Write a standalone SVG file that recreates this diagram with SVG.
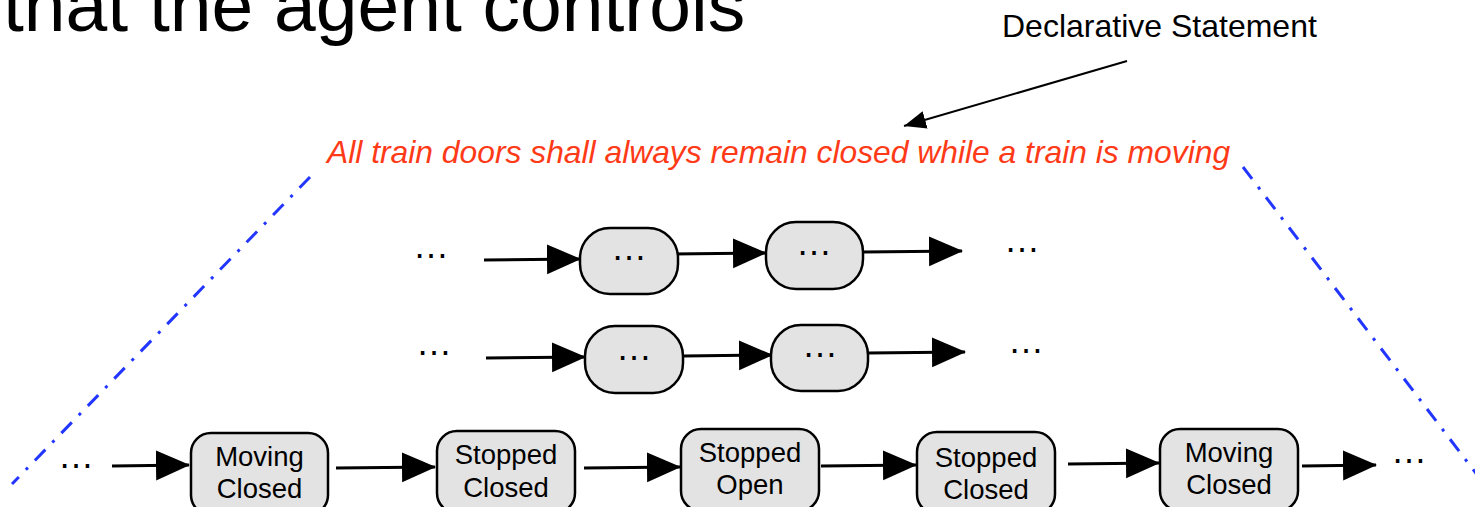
<svg xmlns="http://www.w3.org/2000/svg" width="1475" height="507" viewBox="0 0 1475 507">
  <defs>
    <style>
      .sans { font-family: "Liberation Sans", Arial, sans-serif; }
      .title { font-size: 75px; fill: #000; }
      .label { font-size: 32px; fill: #000; }
      .rule { font-size: 31.8px; font-style: italic; fill: #ff3a17; }
      .state { fill: #e3e3e3; stroke: #000; stroke-width: 2.5; }
      .stext { font-size: 27.5px; fill: #000; text-anchor: middle; }
      .dots { font-size: 36px; fill: #000; }
      .dotsm { font-size: 36px; fill: #000; text-anchor: middle; }
      .edge { fill: none; stroke: #000; stroke-width: 3; marker-end: url(#head); }
      .thin { fill: none; stroke: #000; stroke-width: 2; marker-end: url(#headSmall); }
      .bound { fill: none; stroke: #2236ff; stroke-width: 3; stroke-dasharray: 15 10 3 10; }
    </style>
    <marker id="head" markerUnits="userSpaceOnUse" markerWidth="34" markerHeight="32" viewBox="0 0 34 32" refX="33" refY="16" orient="auto">
      <path d="M0,1 L34,16 L0,31 Z" fill="#000"/>
    </marker>
    <marker id="headSmall" markerUnits="userSpaceOnUse" markerWidth="22" markerHeight="20" viewBox="0 0 22 20" refX="22" refY="10" orient="auto">
      <path d="M0,1 L22,10 L0,19 Z" fill="#000"/>
    </marker>
  </defs>

  <rect width="1475" height="507" fill="#fff"/>

  <!-- heading line running off the top edge -->
  <text class="sans title" x="3" y="31">that the agent controls</text>

  <!-- annotation and the requirement it points at -->
  <text id="declarative-label" class="sans label" x="1002" y="37">Declarative Statement</text>
  <text id="requirement" class="sans rule" x="327" y="163">All train doors shall always remain closed while a train is moving</text>

  <!-- boundary of the set of traces covered by the requirement -->
  <g id="boundary">
    <line class="bound" x1="310" y1="177" x2="12" y2="484"/>
    <line class="bound" x1="1243" y1="167" x2="1478" y2="476"/>
  </g>

  <g id="connectors">
    <line class="thin" x1="1127" y1="61" x2="904" y2="126"/>
    <!-- trace 1 -->
    <line class="edge" x1="484" y1="260" x2="580" y2="259"/>
    <line class="edge" x1="672" y1="254" x2="766" y2="253"/>
    <line class="edge" x1="863" y1="252" x2="962" y2="251"/>
    <!-- trace 2 -->
    <line class="edge" x1="486" y1="358" x2="585" y2="357"/>
    <line class="edge" x1="683" y1="356" x2="772" y2="355"/>
    <line class="edge" x1="868" y1="353" x2="965" y2="352"/>
    <!-- trace 3 -->
    <line class="edge" x1="112" y1="466" x2="189" y2="465"/>
    <line class="edge" x1="336" y1="468" x2="435" y2="467"/>
    <line class="edge" x1="584" y1="468" x2="680" y2="467"/>
    <line class="edge" x1="821" y1="466" x2="916" y2="465"/>
    <line class="edge" x1="1068" y1="464" x2="1159" y2="463"/>
    <line class="edge" x1="1302" y1="466" x2="1376" y2="465"/>
  </g>

  <!-- trace 1 -->
  <text class="sans dots" x="413" y="258">…</text>
  <g id="t1-s1">
    <rect class="state" x="580" y="228" width="98" height="66" rx="30" ry="30"/>
    <text class="sans dotsm" x="629" y="260">…</text>
  </g>
  <g id="t1-s2">
    <rect class="state" x="766" y="222" width="97" height="67" rx="30" ry="30"/>
    <text class="sans dotsm" x="814" y="255">…</text>
  </g>
  <text class="sans dots" x="1004" y="252">…</text>

  <!-- trace 2 -->
  <text class="sans dots" x="416" y="355">…</text>
  <g id="t2-s1">
    <rect class="state" x="585" y="326" width="98" height="67" rx="30" ry="30"/>
    <text class="sans dotsm" x="634" y="360">…</text>
  </g>
  <g id="t2-s2">
    <rect class="state" x="771" y="325" width="97" height="66" rx="30" ry="30"/>
    <text class="sans dotsm" x="820" y="357">…</text>
  </g>
  <text class="sans dots" x="1008" y="353">…</text>

  <!-- trace 3 -->
  <text class="sans dots" x="58" y="468">…</text>
  <g id="t3-s1">
    <rect class="state" x="191" y="433" width="137" height="82" rx="20" ry="20"/>
    <text class="sans stext" x="259.5" y="466">Moving</text>
    <text class="sans stext" x="259.5" y="498">Closed</text>
  </g>
  <g id="t3-s2">
    <rect class="state" x="437" y="431" width="138" height="82" rx="20" ry="20"/>
    <text class="sans stext" x="506" y="464">Stopped</text>
    <text class="sans stext" x="506" y="497">Closed</text>
  </g>
  <g id="t3-s3">
    <rect class="state" x="681" y="429" width="138" height="82" rx="20" ry="20"/>
    <text class="sans stext" x="750" y="462">Stopped</text>
    <text class="sans stext" x="750" y="494">Open</text>
  </g>
  <g id="t3-s4">
    <rect class="state" x="917" y="432" width="138" height="82" rx="20" ry="20"/>
    <text class="sans stext" x="986" y="467">Stopped</text>
    <text class="sans stext" x="986" y="499">Closed</text>
  </g>
  <g id="t3-s5">
    <rect class="state" x="1160" y="429" width="138" height="82" rx="20" ry="20"/>
    <text class="sans stext" x="1229" y="462">Moving</text>
    <text class="sans stext" x="1229" y="494">Closed</text>
  </g>
  <text class="sans dots" x="1391" y="463">…</text>
</svg>
